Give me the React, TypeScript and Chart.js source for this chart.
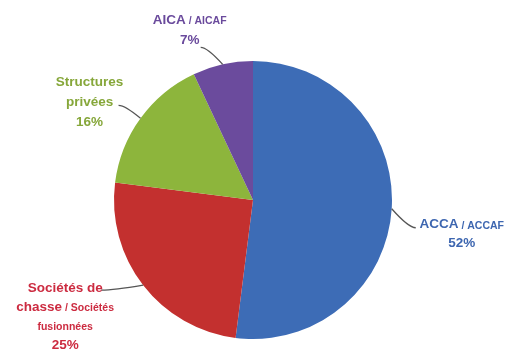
import React, { useEffect, useRef } from "react";
import { Chart, registerables } from "chart.js";

Chart.register(...registerables);

const categories = ["ACCA / ACCAF", "Sociétés de chasse / Sociétés fusionnées", "Structures privées", "AICA / AICAF"];
const values = [52, 25, 16, 7];
const percentLabels = ["52%", "25%", "16%", "7%"];
// text lines of each label: runs of [text, small?]
const labelLines: [string, boolean][][][] = [
  [[["ACCA", false], [" / ACCAF", true]]],
  [[["Sociétés de", false]], [["chasse", false], [" / Sociétés", true]], [["fusionnées", true]]],
  [[["Structures", false]], [["privées", false]]],
  [[["AICA", false], [" / AICAF", true]]],
];

const sliceColors = ["#3D6CB6", "#C3302F", "#8DB53C", "#6B4B9D"];
const textColors = ["#3D66B0", "#CC2B40", "#86A73A", "#6A4A9C"];
// leader end offsets from arc edge, and text block offsets from leader end
const leaderOffsets = [[24, 19], [-42, 5], [-22, -13], [-22, -17]];
const blockOffsets = [[46, -3], [-36, -2], [-29, -23], [-11, -27]];
const lineSpacing = [19, 19, 20, 20];

const FONT = "'Liberation Sans', Arial, sans-serif";
const BIG = 13.5;
const SMALL = 10.5;

const labelPlugin = {
  id: "pieLabels",
  afterDatasetsDraw(chart: any) {
    const ctx = chart.ctx as CanvasRenderingContext2D;
    const meta = chart.getDatasetMeta(0);
    meta.data.forEach((arc: any, i: number) => {
      const p = arc.getProps(["x", "y", "startAngle", "endAngle", "outerRadius"], true);
      const mid = (p.startAngle + p.endAngle) / 2;
      const sx = p.x + Math.cos(mid) * p.outerRadius;
      const sy = p.y + Math.sin(mid) * p.outerRadius;
      const ex = sx + leaderOffsets[i][0];
      const ey = sy + leaderOffsets[i][1];
      ctx.save();
      ctx.strokeStyle = "#555555";
      ctx.lineWidth = 1.3;
      ctx.beginPath();
      ctx.moveTo(sx, sy);
      ctx.quadraticCurveTo(sx + (ex - sx) * 0.7, ey, ex, ey);
      ctx.stroke();

      const bx = ex + blockOffsets[i][0];
      let by = ey + blockOffsets[i][1];
      const lines = [...labelLines[i], [[percentLabels[i], false]] as [string, boolean][]];
      ctx.fillStyle = textColors[i];
      ctx.textBaseline = "middle";
      ctx.textAlign = "left";
      lines.forEach((runs) => {
        let w = 0;
        runs.forEach(([t, small]) => {
          ctx.font = `bold ${small ? SMALL : BIG}px ${FONT}`;
          w += ctx.measureText(t).width;
        });
        let x = bx - w / 2;
        runs.forEach(([t, small]) => {
          ctx.font = `bold ${small ? SMALL : BIG}px ${FONT}`;
          ctx.fillText(t, x, by + (small ? 1 : 0));
          x += ctx.measureText(t).width;
        });
        by += lineSpacing[i];
      });
      ctx.restore();
    });
  },
};

export default function App() {
  const ref = useRef<HTMLCanvasElement>(null);
  useEffect(() => {
    const chart = new Chart(ref.current!, {
      type: "pie",
      data: {
        labels: categories,
        datasets: [
          {
            data: values,
            backgroundColor: sliceColors,
            borderWidth: 0,
          },
        ],
      },
      options: {
        responsive: false,
        animation: false,
        layout: { padding: { top: 61, bottom: 21, left: 114, right: 123 } },
        plugins: { legend: { display: false }, tooltip: { enabled: false } },
      },
      plugins: [labelPlugin],
    });
    return () => chart.destroy();
  }, []);
  return (
    <div style={{ position: "fixed", left: 0, top: 0, width: 515, height: 360, background: "#fff" }}>
      <canvas ref={ref} width={515} height={360} />
    </div>
  );
}
